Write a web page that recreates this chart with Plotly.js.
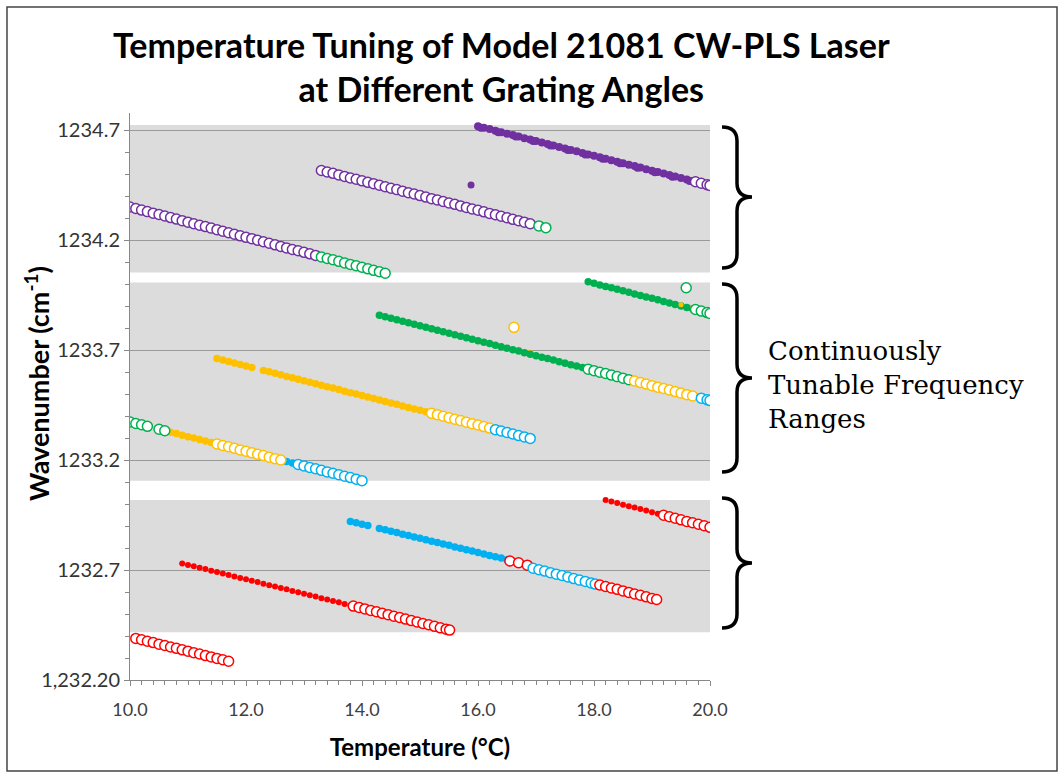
<!DOCTYPE html>
<html>
<head>
<meta charset="utf-8">
<script src="https://cdn.plot.ly/plotly-3.0.1.min.js"></script>
<style>html,body{margin:0;padding:0;background:#fff;}#chart{width:1063px;height:778px;}</style>
</head>
<body>
<div id="chart"></div>
<script>
// ---------- DATA (temperature in °C, wavenumber in cm-1) ----------
// Top range
const purpleFilledA_T = [16.0,16.1,16.2,16.3,16.4,16.5,16.6,16.7,16.8,16.9,17.0,17.1,17.2,17.3,17.4,17.5,17.6,17.7,17.8,17.9,18.0,18.1,18.2,18.3,18.4,18.5,18.6,18.7,18.8,18.9,19.0,19.1,19.2,19.3,19.4,19.5,19.6,19.7,19.8,19.9,20.0];
const purpleFilledA_W = [1234.717,1234.710,1234.704,1234.697,1234.690,1234.683,1234.677,1234.670,1234.663,1234.657,1234.650,1234.643,1234.636,1234.630,1234.623,1234.616,1234.609,1234.603,1234.596,1234.589,1234.583,1234.576,1234.569,1234.562,1234.556,1234.549,1234.542,1234.536,1234.529,1234.522,1234.515,1234.509,1234.502,1234.495,1234.489,1234.482,1234.475,1234.468,1234.462,1234.455,1234.448];
const purpleFilledA2_T = [16.05,16.35,16.65,16.95,17.25,17.55,17.85,18.15,18.45,18.75,19.05,19.35,19.65,19.95];
const purpleFilledA2_W = [1234.710,1234.690,1234.670,1234.650,1234.629,1234.609,1234.589,1234.569,1234.549,1234.528,1234.508,1234.488,1234.468,1234.448];
const purpleOpenA_T = [19.75,19.85,19.95,20.0];
const purpleOpenA_W = [1234.465,1234.458,1234.451,1234.448];
const purpleIsolated_T = [15.88,15.85];
const purpleIsolated_W = [1234.450,1234.345];

const purpleOpenB_T = [13.3,13.4,13.5,13.6,13.7,13.8,13.9,14.0,14.1,14.2,14.3,14.4,14.5,14.6,14.7,14.8,14.9,15.0,15.1,15.2,15.3,15.4,15.5,15.6,15.7,15.8,15.9,16.0,16.1,16.2,16.3,16.4,16.5,16.6,16.7,16.8,16.9];
const purpleOpenB_W = [1234.516,1234.509,1234.503,1234.496,1234.489,1234.482,1234.476,1234.469,1234.462,1234.456,1234.449,1234.442,1234.435,1234.429,1234.422,1234.415,1234.409,1234.402,1234.395,1234.388,1234.382,1234.375,1234.368,1234.362,1234.355,1234.348,1234.341,1234.335,1234.328,1234.321,1234.315,1234.308,1234.301,1234.294,1234.288,1234.281,1234.274];
const greenOpenB_T = [17.05,17.17];
const greenOpenB_W = [1234.264,1234.256];

const purpleOpenC_T = [10.0,10.1,10.2,10.3,10.4,10.5,10.6,10.7,10.8,10.9,11.0,11.1,11.2,11.3,11.4,11.5,11.6,11.7,11.8,11.9,12.0,12.1,12.2,12.3,12.4,12.5,12.6,12.7,12.8,12.9,13.0,13.1,13.2];
const purpleOpenC_W = [1234.350,1234.343,1234.336,1234.329,1234.322,1234.316,1234.309,1234.302,1234.295,1234.288,1234.281,1234.274,1234.267,1234.261,1234.254,1234.247,1234.240,1234.233,1234.226,1234.219,1234.212,1234.206,1234.199,1234.192,1234.185,1234.178,1234.171,1234.164,1234.157,1234.151,1234.144,1234.137,1234.130];
const greenOpenC_T = [13.3,13.4,13.5,13.6,13.7,13.8,13.9,14.0,14.1,14.2,14.3,14.4];
const greenOpenC_W = [1234.123,1234.116,1234.110,1234.103,1234.096,1234.089,1234.083,1234.076,1234.069,1234.062,1234.056,1234.049];

// Middle range
const greenFilledD_T = [17.9,18.0,18.1,18.2,18.3,18.4,18.5,18.6,18.7,18.8,18.9,19.0,19.1,19.2,19.3,19.4,19.5,19.6,19.7,19.8,19.9,20.0];
const greenFilledD_W = [1234.010,1234.003,1233.996,1233.989,1233.983,1233.976,1233.969,1233.962,1233.955,1233.948,1233.941,1233.935,1233.928,1233.921,1233.914,1233.907,1233.900,1233.893,1233.887,1233.880,1233.873,1233.866];
const yellowFilledD_T = [19.5,19.7,19.85];
const yellowFilledD_W = [1233.906,1233.893,1233.883];
const greenOpenD_T = [19.59,19.75,19.85,19.95,20.0];
const greenOpenD_W = [1233.983,1233.884,1233.877,1233.870,1233.866];

const greenFilledE_T = [14.3,14.4,14.5,14.6,14.7,14.8,14.9,15.0,15.1,15.2,15.3,15.4,15.5,15.6,15.7,15.8,15.9,16.0,16.1,16.2,16.3,16.4,16.5,16.6,16.7,16.8,16.9,17.0,17.1,17.2,17.3,17.4,17.5,17.6,17.7,17.8];
const greenFilledE_W = [1233.858,1233.851,1233.844,1233.837,1233.831,1233.824,1233.817,1233.810,1233.803,1233.797,1233.790,1233.783,1233.776,1233.769,1233.763,1233.756,1233.749,1233.742,1233.735,1233.729,1233.722,1233.715,1233.708,1233.701,1233.695,1233.688,1233.681,1233.674,1233.667,1233.661,1233.654,1233.647,1233.640,1233.633,1233.627,1233.620];
const yellowFilledE_T = [16.7,16.9,17.5,18.6];
const yellowFilledE_W = [1233.701,1233.688,1233.646,1233.569];
const greenOpenE_T = [17.9,18.0,18.1,18.2,18.3,18.4,18.5,18.6];
const greenOpenE_W = [1233.613,1233.606,1233.599,1233.593,1233.586,1233.579,1233.572,1233.565];
const yellowOpenE_T = [18.7,18.8,18.9,19.0,19.1,19.2,19.3,19.4,19.5,19.6,19.7,16.62];
const yellowOpenE_W = [1233.559,1233.552,1233.545,1233.538,1233.531,1233.525,1233.518,1233.511,1233.504,1233.497,1233.491,1233.803];
const blueOpenE_T = [19.85,19.95,20.0];
const blueOpenE_W = [1233.481,1233.474,1233.470];

const yellowFilledF_T = [11.5,11.6,11.7,11.8,11.9,12.0,12.1,12.3,12.4,12.5,12.6,12.7,12.8,12.9,13.0,13.1,13.2,13.3,13.4,13.5,13.6,13.7,13.8,13.9,14.0,14.1,14.2,14.3,14.4,14.5,14.6,14.7,14.8,14.9,15.0,15.1];
const yellowFilledF_W = [1233.661,1233.654,1233.648,1233.641,1233.634,1233.627,1233.621,1233.607,1233.601,1233.594,1233.587,1233.580,1233.574,1233.567,1233.560,1233.553,1233.547,1233.540,1233.533,1233.527,1233.520,1233.513,1233.506,1233.500,1233.493,1233.486,1233.480,1233.473,1233.466,1233.459,1233.453,1233.446,1233.439,1233.432,1233.426,1233.419];
const redFilledF_T = [15.4,15.6,15.8,16.0];
const redFilledF_W = [1233.404,1233.391,1233.378,1233.364];
const yellowOpenF_T = [15.2,15.3,15.4,15.5,15.6,15.7,15.8,15.9,16.0,16.1,16.2];
const yellowOpenF_W = [1233.412,1233.406,1233.399,1233.392,1233.385,1233.379,1233.372,1233.365,1233.359,1233.352,1233.345];
const blueOpenF_T = [16.3,16.4,16.5,16.6,16.7,16.8,16.9];
const blueOpenF_W = [1233.338,1233.332,1233.325,1233.318,1233.311,1233.305,1233.298];

const greenOpenG_T = [10.0,10.1,10.2,10.3,10.5,10.6];
const greenOpenG_W = [1233.373,1233.366,1233.360,1233.353,1233.340,1233.333];
const yellowFilledG_T = [10.7,10.8,10.9,11.0,11.1,11.2,11.3,11.4];
const yellowFilledG_W = [1233.326,1233.320,1233.313,1233.306,1233.300,1233.293,1233.286,1233.280];
const redFilledG_T = [11.95,12.1,13.4,13.6];
const redFilledG_W = [1233.252,1233.241,1233.154,1233.141];
const yellowOpenG_T = [11.5,11.6,11.7,11.8,11.9,12.0,12.1,12.2,12.3,12.4,12.5,12.6];
const yellowOpenG_W = [1233.273,1233.266,1233.260,1233.253,1233.246,1233.240,1233.233,1233.226,1233.220,1233.213,1233.206,1233.200];
const blueFilledG_T = [12.7,12.8];
const blueFilledG_W = [1233.193,1233.186];
const blueOpenG_T = [12.9,13.0,13.1,13.2,13.3,13.4,13.5,13.6,13.7,13.8,13.9,14.0];
const blueOpenG_W = [1233.180,1233.173,1233.166,1233.160,1233.153,1233.146,1233.140,1233.133,1233.126,1233.120,1233.113,1233.106];

// Bottom range
const redFilledH_T = [18.2,18.3,18.4,18.5,18.6,18.7,18.8,18.9,19.0,19.1,19.2,19.3,19.4,19.5,19.6,19.7,19.8,19.9,20.0];
const redFilledH_W = [1233.018,1233.011,1233.004,1232.997,1232.990,1232.984,1232.977,1232.970,1232.963,1232.956,1232.949,1232.942,1232.935,1232.928,1232.921,1232.915,1232.908,1232.901,1232.894];
const redOpenH_T = [19.2,19.3,19.4,19.5,19.6,19.7,19.8,19.9,20.0];
const redOpenH_W = [1232.949,1232.942,1232.935,1232.928,1232.921,1232.915,1232.908,1232.901,1232.894];

const blueFilledI_T = [13.8,13.9,14.0,14.1,14.3,14.4,14.5,14.6,14.7,14.8,14.9,15.0,15.1,15.2,15.3,15.4,15.5,15.6,15.7,15.8,15.9,16.0,16.1,16.2,16.3,16.4,16.5,16.6];
const blueFilledI_W = [1232.921,1232.915,1232.908,1232.902,1232.889,1232.883,1232.876,1232.870,1232.863,1232.857,1232.850,1232.844,1232.837,1232.831,1232.825,1232.818,1232.812,1232.805,1232.799,1232.792,1232.786,1232.779,1232.773,1232.766,1232.760,1232.754,1232.747,1232.741];
const redFilledI_T = [17.1,17.4,17.7,17.9];
const redFilledI_W = [1232.700,1232.680,1232.660,1232.645];
const redOpenI1_T = [16.55,16.7,16.85];
const redOpenI1_W = [1232.741,1232.733,1232.722];
const blueOpenI_T = [16.95,17.05,17.15,17.25,17.35,17.45,17.55,17.65,17.75,17.85,17.95,18.02];
const blueOpenI_W = [1232.708,1232.701,1232.695,1232.688,1232.681,1232.675,1232.668,1232.661,1232.654,1232.648,1232.641,1232.636];
const redOpenI2_T = [18.1,18.2,18.3,18.4,18.5,18.6,18.7,18.8,18.9,19.0,19.08];
const redOpenI2_W = [1232.632,1232.625,1232.618,1232.612,1232.605,1232.598,1232.591,1232.585,1232.578,1232.571,1232.566];

const redFilledJ_T = [10.9,11.0,11.1,11.2,11.3,11.4,11.5,11.6,11.7,11.8,11.9,12.0,12.1,12.2,12.3,12.4,12.5,12.6,12.7,12.8,12.9,13.0,13.1,13.2,13.3,13.4,13.5,13.6,13.7,13.8,13.9,14.0,14.1,14.2,14.3,14.4];
const redFilledJ_W = [1232.730,1232.723,1232.717,1232.710,1232.704,1232.697,1232.691,1232.684,1232.677,1232.671,1232.664,1232.658,1232.651,1232.645,1232.638,1232.631,1232.625,1232.618,1232.612,1232.605,1232.599,1232.592,1232.585,1232.579,1232.572,1232.566,1232.559,1232.553,1232.546,1232.539,1232.533,1232.526,1232.520,1232.513,1232.507,1232.500];
const redOpenJ_T = [13.85,13.95,14.05,14.15,14.25,14.35,14.45,14.55,14.65,14.75,14.85,14.95,15.05,15.15,15.25,15.35,15.45,15.51];
const redOpenJ_W = [1232.536,1232.530,1232.523,1232.516,1232.510,1232.503,1232.497,1232.490,1232.484,1232.477,1232.470,1232.464,1232.457,1232.451,1232.444,1232.437,1232.431,1232.427];

const redOpenK_T = [10.1,10.2,10.3,10.4,10.5,10.6,10.7,10.8,10.9,11.0,11.1,11.2,11.3,11.4,11.5,11.6,11.7];
const redOpenK_W = [1232.389,1232.383,1232.376,1232.370,1232.363,1232.357,1232.350,1232.344,1232.337,1232.331,1232.324,1232.318,1232.311,1232.305,1232.298,1232.292,1232.285];

// Shaded continuously tunable ranges (wavenumber bounds)
const rangeBounds = [[1234.052,1234.723],[1233.106,1234.007],[1232.417,1233.018]];

// Axis tick labels
const yTickVals = [1232.2,1232.7,1233.2,1233.7,1234.2,1234.7];
const yTickText = ['1,232.20','1232.7','1233.2','1233.7','1234.2','1234.7'];
const xTickVals = [10,12,14,16,18,20];

// ---------- STYLE ----------
const C = {purple:'#7030A0', green:'#00B050', yellow:'#FFC000', blue:'#00B0F0', red:'#FF0000'};
function filled(x,y,c,s){return {type:'scatter',mode:'markers',x:x,y:y,hoverinfo:'skip',
  marker:{symbol:'circle',size:s||6,color:c,line:{width:0}}};}
function open(x,y,c){return {type:'scatter',mode:'markers',x:x,y:y,hoverinfo:'skip',
  marker:{symbol:'circle',size:10,color:'#ffffff',line:{color:c,width:1.5}}};}

const traces = [
  filled(purpleFilledA_T,purpleFilledA_W,C.purple,8),
  filled(purpleFilledA2_T,purpleFilledA2_W,C.purple,8),
  filled(purpleIsolated_T,purpleIsolated_W,C.purple,7),
  filled(greenFilledD_T,greenFilledD_W,C.green,7.5),
  filled(yellowFilledD_T,yellowFilledD_W,C.yellow,5),
  filled(yellowFilledE_T,yellowFilledE_W,C.yellow,6),
  filled(greenFilledE_T,greenFilledE_W,C.green,7.5),
  filled(yellowFilledF_T,yellowFilledF_W,C.yellow,7.5),
  filled(redFilledF_T,redFilledF_W,C.red,4),
  filled(yellowFilledG_T,yellowFilledG_W,C.yellow,7.5),
  filled(redFilledG_T,redFilledG_W,C.red,4),
  filled(blueFilledG_T,blueFilledG_W,C.blue,7.5),
  filled(redFilledH_T,redFilledH_W,C.red,6),
  filled(blueFilledI_T,blueFilledI_W,C.blue,7.5),
  filled(redFilledI_T,redFilledI_W,C.red,5),
  filled(redFilledJ_T,redFilledJ_W,C.red,6),
  open(purpleOpenA_T,purpleOpenA_W,C.purple),
  open(purpleOpenB_T,purpleOpenB_W,C.purple),
  open(greenOpenB_T,greenOpenB_W,C.green),
  open(purpleOpenC_T,purpleOpenC_W,C.purple),
  open(greenOpenC_T,greenOpenC_W,C.green),
  open(greenOpenD_T,greenOpenD_W,C.green),
  open(greenOpenE_T,greenOpenE_W,C.green),
  open(yellowOpenE_T,yellowOpenE_W,C.yellow),
  open(blueOpenE_T,blueOpenE_W,C.blue),
  open(yellowOpenF_T,yellowOpenF_W,C.yellow),
  open(blueOpenF_T,blueOpenF_W,C.blue),
  open(greenOpenG_T,greenOpenG_W,C.green),
  open(yellowOpenG_T,yellowOpenG_W,C.yellow),
  open(blueOpenG_T,blueOpenG_W,C.blue),
  open(redOpenH_T,redOpenH_W,C.red),
  open(redOpenI1_T,redOpenI1_W,C.red),
  open(blueOpenI_T,blueOpenI_W,C.blue),
  open(redOpenI2_T,redOpenI2_W,C.red),
  open(redOpenJ_T,redOpenJ_W,C.red),
  open(redOpenK_T,redOpenK_W,C.red)
];

// ---------- LAYOUT ----------
const W = 1063, H = 778;
const M = {l:130, r:353, t:113, b:98};
const PW = W - M.l - M.r, PH = H - M.t - M.b;
const px = v => (v - M.l) / PW;          // pixel x -> paper x
const py = v => (H - M.b - v) / PH;      // pixel y -> paper y

function bracePath(ty, by, tip){
  const x0 = px(722), xs = px(737), xt = px(752);
  const mid = tip;
  const P = (a,b) => a.toFixed(5)+','+py(b).toFixed(5);
  return 'M'+P(x0,ty)+' Q'+P(xs,ty)+' '+P(xs,ty+14)+' L'+P(xs,mid-14)+
         ' Q'+P(xs,mid)+' '+P(xt,mid)+' Q'+P(xs,mid)+' '+P(xs,mid+14)+
         ' L'+P(xs,by-14)+' Q'+P(xs,by)+' '+P(x0,by);
}

const shapes = rangeBounds.map(b => ({type:'rect',xref:'paper',yref:'y',x0:0,x1:1,y0:b[0],y1:b[1],
  fillcolor:'#DCDCDC',line:{width:0},layer:'below'}));
shapes.push({type:'path',xref:'paper',yref:'paper',path:bracePath(127,268,197),line:{color:'#000',width:3.5}});
shapes.push({type:'path',xref:'paper',yref:'paper',path:bracePath(284,472,378),line:{color:'#000',width:3.5}});
shapes.push({type:'path',xref:'paper',yref:'paper',path:bracePath(498,628,563),line:{color:'#000',width:3.5}});
shapes.push({type:'rect',xref:'paper',yref:'paper',x0:px(7),x1:px(1057),y0:py(771),y1:py(7),
  line:{color:'#444',width:1.5},fillcolor:'rgba(0,0,0,0)',layer:'above'});

const layout = {
  width:W, height:H, margin:M, showlegend:false,
  paper_bgcolor:'#fff', plot_bgcolor:'#fff', hovermode:false,
  font:{family:'Lato, sans-serif', color:'#404040'},
  xaxis:{range:[10,20], tickmode:'array', tickvals:xTickVals, tickformat:'.1f',
    showgrid:false, zeroline:false, showline:true, linecolor:'#888', linewidth:1,
    ticks:'outside', ticklen:5, tickcolor:'#888', ticklabelstandoff:8,
    minor:{tickmode:'linear', tick0:10, dtick:0.2, ticks:'outside', ticklen:4, tickcolor:'#888', showgrid:false},
    tickfont:{family:'Lato, sans-serif', size:18, color:'#404040'},
    title:{text:'<b>Temperature (°C)</b>', font:{family:'Lato, sans-serif', size:24, color:'#000'}, standoff:20}},
  yaxis:{range:[1232.2,1232.2+PH/220], tickmode:'array', tickvals:yTickVals, ticktext:yTickText,
    showgrid:true, gridcolor:'#9a9a9a', gridwidth:1, zeroline:false,
    showline:true, linecolor:'#888', linewidth:1,
    ticks:'outside', ticklen:5, tickcolor:'#888',
    minor:{tickmode:'linear', tick0:1232.2, dtick:0.1, ticks:'outside', ticklen:4, tickcolor:'#888', showgrid:false},
    tickfont:{family:'Lato, sans-serif', size:20, color:'#333'}},
  shapes:shapes,
  annotations:[
    {xref:'paper', yref:'paper', x:px(501), y:py(67), xanchor:'center', yanchor:'middle', align:'center',
     showarrow:false, text:'<b>Temperature Tuning of Model 21081 CW-PLS Laser<br>at Different Grating Angles</b>',
     font:{family:'Lato, sans-serif', size:34, color:'#000'}},
    {xref:'paper', yref:'paper', x:px(37), y:py(384), xanchor:'center', yanchor:'middle', textangle:-90,
     showarrow:false, text:'<b>Wavenumber (cm<sup>-1</sup>)</b>',
     font:{family:'Lato, sans-serif', size:27, color:'#000'}},
    {xref:'paper', yref:'paper', x:px(766), y:py(385), xanchor:'left', yanchor:'middle', align:'left',
     showarrow:false, text:'Continuously<br>Tunable Frequency<br>Ranges',
     font:{family:'DejaVu Serif, serif', size:26, color:'#000'}}]
};

Plotly.newPlot('chart', traces, layout, {displayModeBar:false, staticPlot:true});
</script>
</body>
</html>
